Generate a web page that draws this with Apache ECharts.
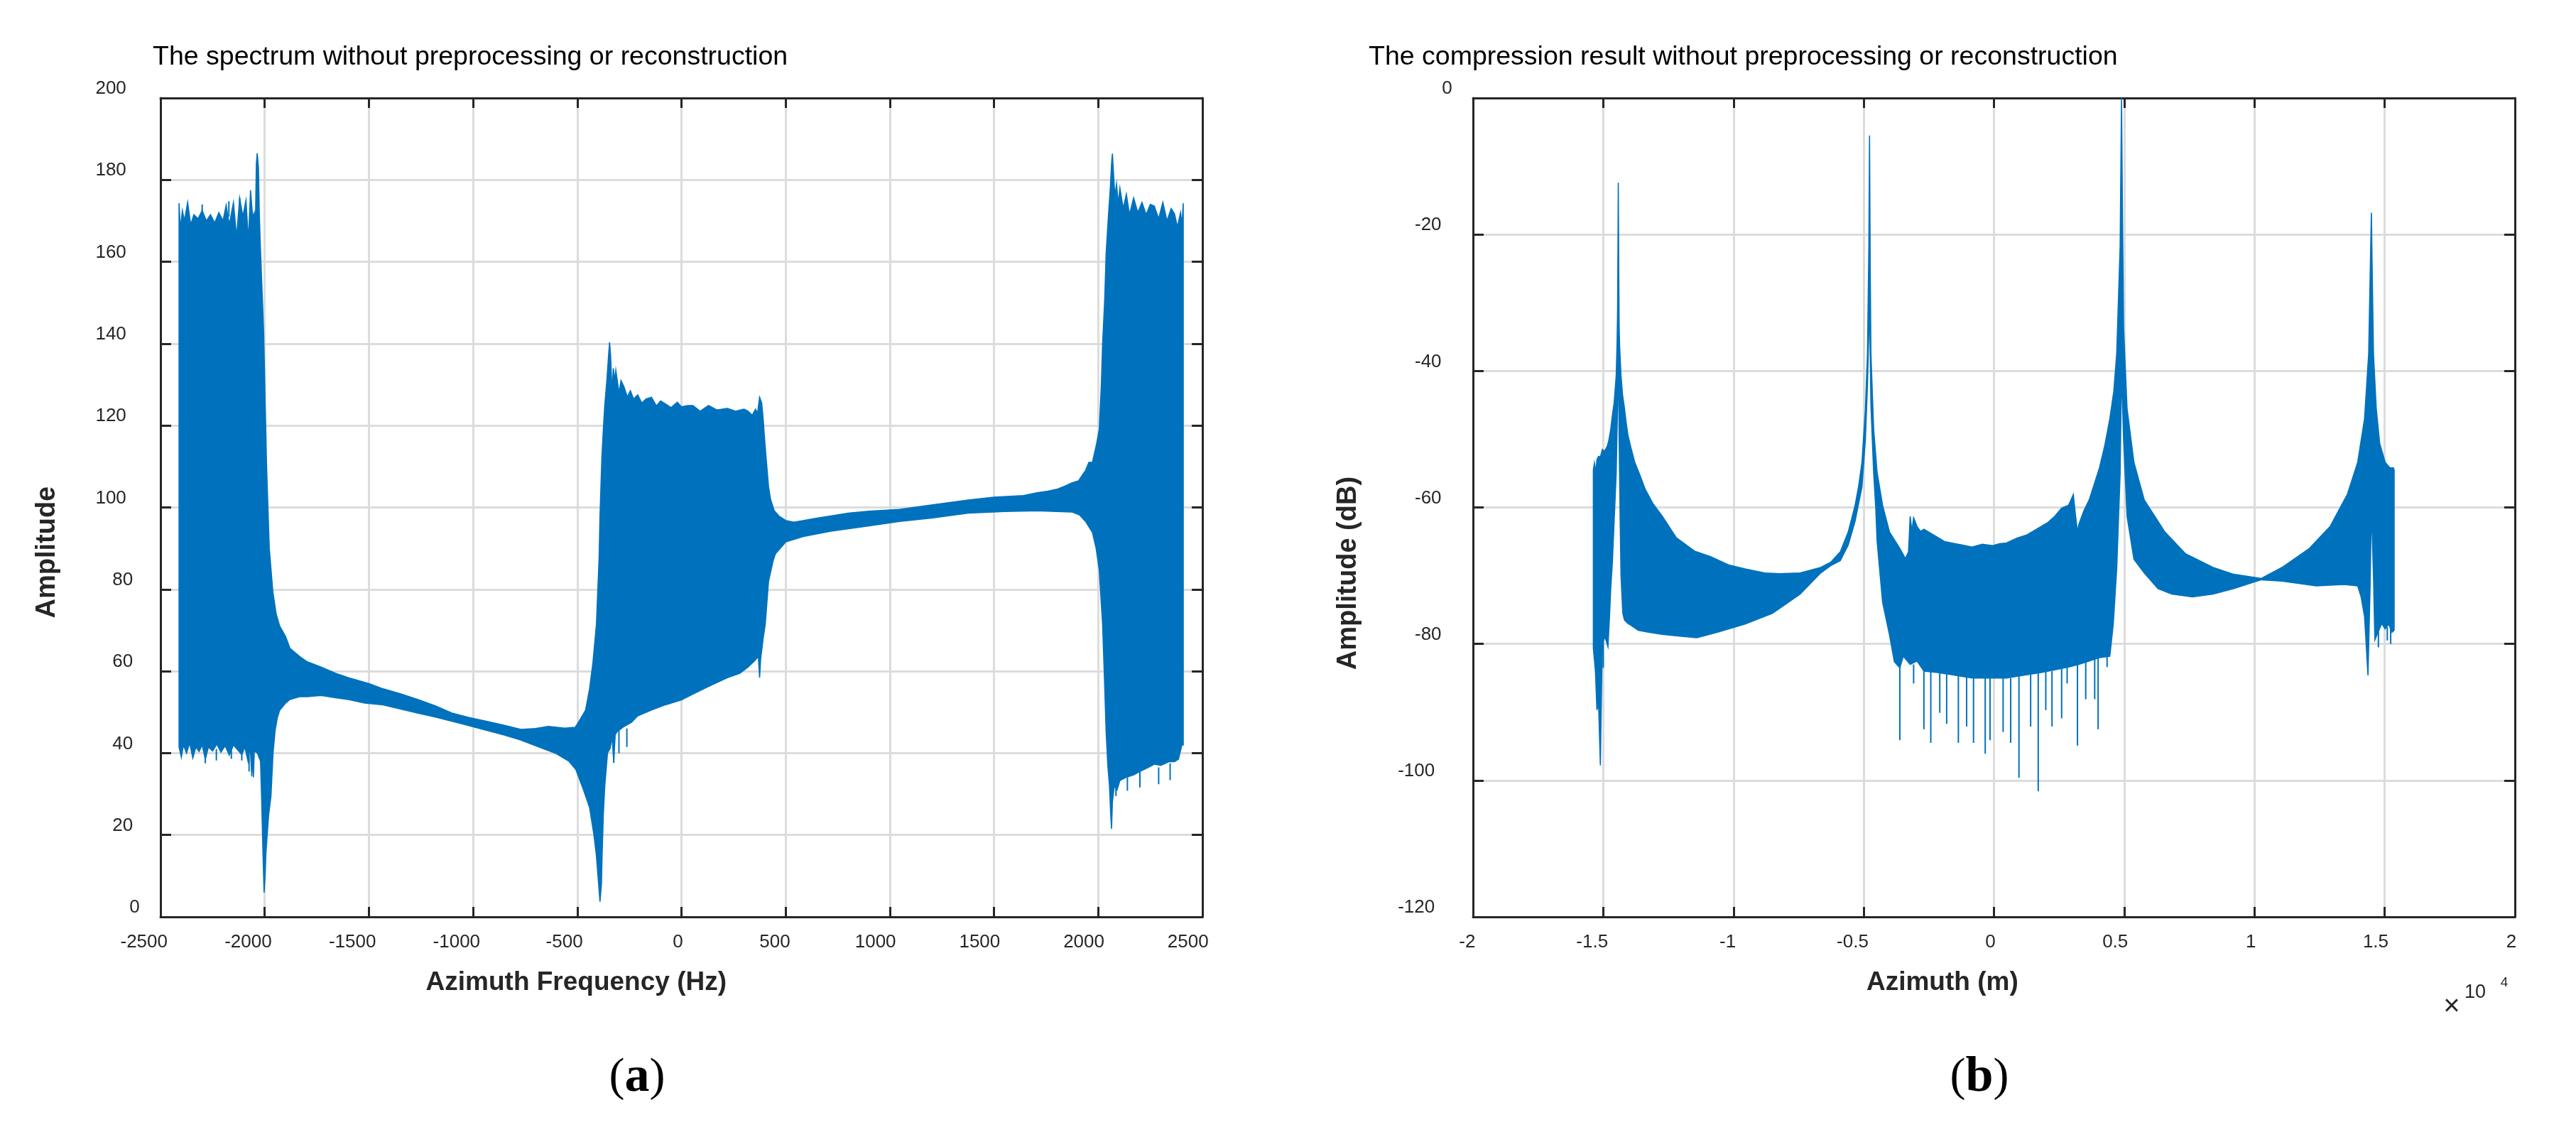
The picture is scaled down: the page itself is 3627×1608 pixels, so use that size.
<!DOCTYPE html>
<html>
<head>
<meta charset="utf-8">
<script src="https://cdn.jsdelivr.net/npm/echarts@6/dist/echarts.min.js"></script>
<style>
  html, body { margin: 0; padding: 0; background: #fff; }
  #chart { width: 3627px; height: 1608px; }
</style>
</head>
<body>
<div id="chart"></div>
<script>
// ---- (a) spectrum: envelope of the dense trace ----
const upFreqA = [-2411, -2405, -2395, -2385, -2370, -2355, -2340, -2320, -2300, -2280, -2260, -2240, -2220, -2200,
  -2185, -2170, -2150, -2135, -2120, -2105, -2090, -2078, -2068, -2058, -2050, -2045, -2040, -2036, -2030, -2026,
  -2021, -2012, -2005, -1997, -1991, -1978, -1961, -1945, -1928, -1900, -1879, -1830, -1796, -1730, -1660, -1598,
  -1500, -1432, -1350, -1267, -1180, -1102, -1020, -937, -850, -771, -700, -639, -560, -510, -491, -460, -441, -425,
  -408, -395, -391, -382, -375, -368, -358, -350, -345, -340, -333, -327, -320, -315, -300, -290, -276, -260, -245,
  -230, -210, -190, -170, -144, -120, -100, -77, -50, -20, 0, 30, 55, 90, 130, 170, 220, 260, 300, 319, 340, 355,
  365, 375, 385, 392, 400, 408, 418, 428, 445, 468, 501, 540, 584, 650, 716, 800, 900, 1046, 1200, 1377, 1500, 1641,
  1707, 1760, 1806, 1840, 1873, 1906, 1925, 1939, 1955, 1972, 1990, 2005, 2015, 2021, 2031, 2038, 2048, 2058, 2064,
  2068, 2074, 2080, 2088, 2096, 2104, 2120, 2135, 2150, 2170, 2190, 2210, 2230, 2250, 2269, 2290, 2310, 2330, 2350,
  2366, 2380, 2395, 2402, 2408];
const upAmpA = [174.3, 168, 172.5, 170, 174.5, 169, 171.5, 170.5, 172.5, 170, 171.5, 169.5, 172, 170,
  173.8, 169, 174.5, 166, 175.5, 171, 175, 165, 177.5, 171, 172, 168, 184, 186.5, 183, 172,
  164, 152, 142.5, 124, 110, 90, 79.4, 74, 71, 68.5, 65.6, 63.5, 62.3, 61, 59.5, 58.4,
  57, 55.7, 54.5, 53.1, 51.5, 49.8, 48.7, 47.8, 46.8, 45.8, 46, 46.5, 46.1, 46.3, 47.8, 50.5, 55.7, 62,
  71.5, 88, 98, 112, 119, 125, 131, 137, 140.3, 137, 128, 134, 131, 133.5, 128, 131, 129.5, 127, 128.5,
  126.5, 127.5, 125.5, 126.5, 126.9, 124.8, 126, 125.3, 124.4, 125.7, 124.6, 124.9, 124.9, 123.5, 124.9, 123.8, 124.2, 123.5, 124, 123.5, 122.5, 124,
  123, 126.9, 125.5, 121.6, 116, 111, 105, 101.9, 99.2, 97.9, 96.8, 96.4, 96.8, 97.4, 97.9, 98.6, 99.1, 99.5, 100.6, 101.8, 102.5, 102.9,
  103.6, 104, 104.5, 105.2, 106, 106.5, 108, 109, 111, 111, 115, 119, 130, 140, 150.6, 162, 170.4, 178, 184,
  186.4, 181, 176, 179, 174, 178, 173, 176.5, 171.5, 175.6, 172, 174.5, 171.5, 174, 173.6, 170.5, 174.5, 170, 173,
  171.7, 168.5, 172, 169, 174.3];
const lowFreqA = [-2411, -2400, -2390, -2375, -2360, -2345, -2330, -2315, -2300, -2285, -2270, -2250, -2230, -2210,
  -2190, -2170, -2150, -2130, -2110, -2095, -2080, -2070, -2062, -2058, -2054, -2050, -2035, -2020, -2015, -2008,
  -2003, -1998, -1994, -1981, -1970, -1960, -1950, -1940, -1928, -1900, -1879, -1830, -1796, -1730, -1660, -1598,
  -1520, -1432, -1350, -1267, -1180, -1102, -1020, -937, -850, -771, -700, -606, -540, -507, -470, -441, -420, -408,
  -396, -391, -384, -381, -375, -368, -355, -342, -333, -325, -318, -309, -276, -240, -210, -144, -77, 0, 55, 130,
  220, 280, 319, 350, 369, 375, 380, 392, 402, 418, 440, 451, 501, 584, 716, 900, 1046, 1200, 1377, 1550, 1707, 1800,
  1873, 1910, 1939, 1972, 1990, 2005, 2013, 2021, 2030, 2038, 2046, 2054, 2060, 2064, 2068, 2077, 2090, 2104, 2130,
  2170, 2200, 2240, 2269, 2300, 2340, 2366, 2385, 2401, 2408];
const lowAmpA = [41.5, 39, 42, 40, 42.5, 38.8, 41.5, 40.4, 42, 38.5, 41.5, 40.5, 42.2, 40.2,
  41.8, 39.5, 42, 40.8, 39.6, 41.5, 38, 42.2, 34.3, 40, 34.1, 40.5, 40, 38, 29.5, 15,
  5.9, 10, 15.8, 25, 29.5, 40, 45.5, 48.5, 50.5, 52.2, 53.1, 53.8, 53.8, 54.1, 53.5, 53.1,
  52.2, 51.8, 50.8, 49.8, 48.8, 47.8, 46.7, 45.6, 44.4, 43.2, 41.8, 40, 38, 36, 31, 26.7, 20, 14.9,
  7, 3.7, 8, 14.9, 25, 32, 40, 41.2, 44, 37.9, 44.5, 45.2, 46.5, 47.5, 49.1, 50.5, 51.8, 53, 54.4, 56.3,
  58.4, 59.5, 61, 62.5, 63.6, 58.4, 63, 68, 71.5, 82, 87, 88.7, 91.6, 92.9, 94.2, 95.5, 96.6, 97.4, 98.6, 99, 99.2, 99,
  98.9, 98.2, 96.6, 93.9, 90, 84.7, 78, 71.5, 58, 45.2, 37, 32, 25, 21.5, 28, 32, 31, 33.3, 34,
  34.7, 35.5, 36.5, 37.3, 37, 37.9, 37.9, 38.5, 41.9, 42];
// thin needles sticking out of the band edges: [freq, from, to]
const spikeFreqA = [-2285, -2232, -2160, -2110, -2075, -2300, -2172, -2120, -325, -300, -262, 2085, 2140, 2200, 2290, 2345];
const spikeFromA = [42, 41, 41, 41, 41, 171, 171, 171, 44, 45.5, 46, 33, 34, 35.5, 36.5, 37.5];
const spikeToA = [37.5, 38.2, 38.6, 38.2, 35.5, 174, 174.8, 175.6, 37.6, 40, 41.5, 29.5, 30.8, 31.6, 32.4, 33.4];

const xTicksA = ['-2500', '-2000', '-1500', '-1000', '-500', '0', '500', '1000', '1500', '2000', '2500'];
const yTicksA = ['0', '20', '40', '60', '80', '100', '120', '140', '160', '180', '200'];

// ---- (b) compression result ----
const upPosB = [-15380, -15340, -15290, -15243, -15180, -15111, -15031, -14950, -14846, -14793, -14714, -14650,
  -14582, -14503, -14470, -14450, -14435, -14423, -14405, -14390, -14370, -14318, -14260, -14185, -14120, -14053,
  -13921, -13789, -13600, -13393, -13100, -12732, -12203, -11500, -10882, -10200, -9560, -8800, -8239, -7446, -6653,
  -6257, -5900, -5596, -5332, -5200, -5068, -4935, -4856, -4803, -4777, -4750, -4724, -4618, -4486, -4275, -4010,
  -3614, -3400, -3280, -3217, -3150, -3085, -2953, -2820, -2689, -2425, -2160, -1900, -1631, -1240, -839, -450, -46,
  220, 483, 880, 1276, 1540, 1805, 2070, 2333, 2598, 2862, 3047, 3126, 3206, 3258, 3450, 3655, 4051, 4250, 4448,
  4600, 4712, 4844, 4897, 4940, 4976, 5109, 5373, 5770, 6563, 7356, 8413, 9206, 10263, 11056, 12112, 12905, 13566,
  13963, 14227, 14385, 14464, 14491, 14520, 14570, 14676, 14808, 15019, 15204, 15336, 15363];
const upDbB = [-54.5, -53.5, -54.8, -53, -52.5, -52.6, -51.5, -51.8, -51, -50.3, -48.6, -46.5,
  -44.7, -40.7, -36, -31.2, -22, -12.4, -25, -33.6, -36.5, -40.7, -43.5, -45.5, -47.6, -49.4,
  -51.5, -53.4, -55.2, -57.3, -59.4, -61.3, -64.4, -66.4, -67.2, -68.4, -69, -69.6, -69.7, -69.6, -68.8,
  -68, -66.5, -63.6, -59.7, -57, -53.4, -45.5, -37.5, -21.7, -5.5, -25, -37.5, -48.6, -54.9, -59.7, -63.6,
  -66, -67.5, -66.5, -61.3, -63.5, -61.5, -62.8, -63.5, -63.2, -63.8, -64.4, -65, -65.2, -65.5, -65.8, -65.4, -65.6,
  -65.3, -65.2, -64.5, -64, -63.4, -62.8, -62.2, -61.3, -60.1, -59.7, -58.1, -61, -63.6, -62.5, -60.5, -58.9, -54.2, -51, -47,
  -43, -37.5, -21.7, 0, -20, -33.6, -45.5, -53.4, -58.9, -63.6, -66.8, -68.8, -69.8, -70.4, -68.8, -66, -62.8, -58.1,
  -53.4, -47, -37.5, -21.7, -16.8, -25, -37.5, -45.5, -50.6, -53.4, -54.2, -54.2, -54.5];
const lowPosB = [-15380, -15300, -15243, -15200, -15111, -15060, -15031, -14950, -14899, -14820, -14760, -14714,
  -14650, -14582, -14503, -14450, -14423, -14390, -14350, -14318, -14250, -14185, -14053, -13921, -13657, -13260,
  -12732, -12203, -11410, -10617, -9560, -8503, -7446, -6653, -6257, -5900, -5596, -5332, -5068, -4935, -4856, -4777,
  -4724, -4618, -4539, -4486, -4275, -4010, -3825, -3614, -3482, -3217, -2953, -2689, -2160, -1631, -839, -46, 483,
  1276, 1805, 2333, 2862, 3258, 3655, 4051, 4448, 4580, 4712, 4844, 4897, 4976, 5109, 5373, 5770, 6298, 6827, 7620,
  8413, 9206, 10263, 11056, 12377, 13434, 13963, 14095, 14227, 14359, 14438, 14491, 14570, 14623, 14887, 15019, 15151,
  15283, 15363];
const lowDbB = [-80.6, -84, -89.7, -86, -97.8, -85, -80, -79, -79.4, -80.4, -76, -72,
  -68, -62, -55, -45, -35, -50, -62, -70, -75.5, -76.5, -77, -77.3, -78, -78.3,
  -78.6, -78.8, -79.1, -78.3, -77.1, -75.5, -72.7, -69.6, -68.5, -67.8, -65.5, -62, -57, -50, -42, -30,
  -45, -55, -60, -65, -73.9, -78.7, -82.6, -83.5, -81.8, -83, -82.5, -84, -84.2, -84.5, -85, -85, -85,
  -84.5, -84.2, -83.8, -83.4, -83, -82.5, -82, -81.8, -77.1, -69, -55, -40, -50, -61.3, -67.6, -69.6, -71.9, -72.7, -73.1,
  -72.7, -71.9, -70.6, -70.8, -71.5, -71.3, -71.5, -73.1, -76, -84.6, -72, -60, -70, -79.4, -77, -77.8, -77.1,
  -78.3, -78];
const spikePosB = [-3614, -3085, -2689, -2425, -2081, -1816, -1367, -1050, -785, -336, -151, 351, 642, 959, 1408,
  1699, 1990, 2228, 2598, 2809, 3206, 3523, 3867, 3999, 4342, -15200, -15000, 14760, 15100, 15230];
const spikeFromB = [-83, -83, -84, -84, -84, -84, -84.5, -84.5, -85, -85, -85, -85, -85, -84.5, -84.5,
  -84.2, -84, -84, -83.5, -83.4, -83, -82.5, -82, -82, -81.8, -82, -79, -76, -77.5, -77.5];
const spikeToB = [-94.1, -85.8, -92.5, -94.5, -90.1, -91.7, -94.5, -92.1, -94.5, -96.1, -94.1, -92.9, -94.5, -99.6, -92.1,
  -101.6, -89.7, -92.1, -90.9, -85.8, -94.9, -88.1, -88.1, -92.5, -83.4, -89.5, -83.5, -80.5, -79.5, -80];

const xTicksB = ['-2', '-1.5', '-1', '-0.5', '0', '0.5', '1', '1.5', '2'];
const yTicksB = ['-120', '-100', '-80', '-60', '-40', '-20', '0'];

const BLUE = '#0072BD';
const INK = '#262626';
const FONT = '"Liberation Sans", Arial, Helvetica, sans-serif';

const measure = (() => {
  const c = document.createElement('canvas').getContext('2d');
  return (s, size, weight) => {
    c.font = (weight || 'normal') + ' ' + size + 'px ' + FONT;
    return c.measureText(s).width;
  };
})();

// the exported figure has its labels nudged left of their anchors by a share of their width
function tickRich(labels, share) {
  const rich = {};
  labels.forEach((s, i) => {
    const w = measure(s, 26);
    rich['t' + i] = { fontSize: 26, fontFamily: FONT, color: INK, padding: [0, share * w, 0, 0] };
  });
  return rich;
}

function axesFor(g, o) {
  const line = { show: true, onZero: false, lineStyle: { color: INK, width: 3 } };
  const tick = { inside: true, length: 14, lineStyle: { color: INK, width: 3 } };
  const ytick = { inside: true, length: 15, lineStyle: { color: INK, width: 3 } };
  const grid = { show: true, lineStyle: { color: '#dcdcdc', width: 3 } };
  const xw = measure(o.xName, 37, 'bold');
  const yw = measure(o.yName, 38, 'bold');
  const xAxes = [{
    type: 'value', gridIndex: g, position: 'bottom', min: o.xMin, max: o.xMax, interval: o.xInt,
    axisLine: line, axisTick: tick, splitLine: grid,
    axisLabel: {
      margin: 23, showMinLabel: true, showMaxLabel: true, rich: tickRich(o.xLabels, 0.7),
      formatter: v => {
        const i = Math.round((v - o.xMin) / o.xInt);
        return '{t' + i + '|' + o.xLabels[i] + '}';
      }
    },
    name: o.xName, nameLocation: 'middle', nameGap: 74,
    nameTextStyle: { fontSize: 37, fontWeight: 'bold', color: INK, fontFamily: FONT, padding: [0, o.xShift * xw, 0, 0] }
  }, {
    type: 'value', gridIndex: g, position: 'top', min: o.xMin, max: o.xMax, interval: o.xInt,
    axisLine: line, axisTick: tick, axisLabel: { show: false }, splitLine: { show: false }
  }];
  const yAxes = [{
    type: 'value', gridIndex: g, position: 'left', min: o.yMin, max: o.yMax, interval: o.yInt,
    axisLine: line, axisTick: ytick, splitLine: grid,
    axisLabel: {
      margin: 20, align: 'right', verticalAlign: 'bottom', showMinLabel: true, showMaxLabel: true,
      rich: tickRich(o.yLabels, 0.65),
      formatter: v => {
        const i = Math.round((v - o.yMin) / o.yInt);
        return '{t' + i + '|' + o.yLabels[i] + '}';
      }
    },
    name: o.yName, nameLocation: 'middle', nameGap: o.yGap,
    nameTextStyle: { fontSize: 38, fontWeight: 'bold', color: INK, fontFamily: FONT, padding: [0, 0.68 * yw, 0, 0] }
  }, {
    type: 'value', gridIndex: g, position: 'right', min: o.yMin, max: o.yMax, interval: o.yInt,
    axisLine: line, axisTick: ytick, axisLabel: { show: false }, splitLine: { show: false }
  }];
  return { xAxes, yAxes };
}

function band(ax, upX, upY, loX, loY) {
  return {
    type: 'custom', xAxisIndex: ax, yAxisIndex: ax, silent: true, z: 3,
    data: [[upX[0], upY[0]]],
    renderItem: (params, api) => {
      const pts = upX.map((x, i) => api.coord([x, upY[i]]));
      for (let i = loX.length - 1; i >= 0; i--) pts.push(api.coord([loX[i], loY[i]]));
      return { type: 'polygon', shape: { points: pts }, style: { fill: BLUE, stroke: BLUE, lineWidth: 1.6, lineJoin: 'miter' } };
    }
  };
}

function needles(ax, xs, from, to) {
  return {
    type: 'custom', xAxisIndex: ax, yAxisIndex: ax, silent: true, z: 4,
    data: xs.map((x, i) => [x, from[i], to[i]]),
    encode: { x: 0, y: [1, 2] },
    renderItem: (params, api) => {
      const a = api.coord([api.value(0), api.value(1)]);
      const b = api.coord([api.value(0), api.value(2)]);
      return { type: 'line', shape: { x1: a[0], y1: a[1], x2: b[0], y2: b[1] }, style: { stroke: BLUE, lineWidth: 2 } };
    }
  };
}

const A = axesFor(0, {
  xMin: -2500, xMax: 2500, xInt: 500, xLabels: xTicksA, xName: 'Azimuth Frequency (Hz)', xShift: 0.7,
  yMin: 0, yMax: 200, yInt: 20, yLabels: yTicksA, yName: 'Amplitude', yGap: 140
});
const B = axesFor(1, {
  xMin: -20000, xMax: 20000, xInt: 5000, xLabels: xTicksB, xName: 'Azimuth (m)', xShift: 0.68,
  yMin: -120, yMax: 0, yInt: 20, yLabels: yTicksB, yName: 'Amplitude (dB)', yGap: 156
});

const chart = echarts.init(document.getElementById('chart'), null, { renderer: 'canvas' });
chart.setOption({
  animation: false,
  backgroundColor: '#fff',
  title: [
    { text: 'The spectrum without preprocessing or reconstruction', left: 210, top: 57,
      textStyle: { fontSize: 37.5, fontWeight: 'normal', color: '#000', fontFamily: FONT } },
    { text: 'The compression result without preprocessing or reconstruction', left: 1922, top: 57,
      textStyle: { fontSize: 37.5, fontWeight: 'normal', color: '#000', fontFamily: FONT } }
  ],
  grid: [
    { left: 226, top: 138, width: 1467, height: 1153, show: true, borderWidth: 0, backgroundColor: '#fff' },
    { left: 2074, top: 138, width: 1467, height: 1153, show: true, borderWidth: 0, backgroundColor: '#fff' }
  ],
  xAxis: [A.xAxes[0], B.xAxes[0], A.xAxes[1], B.xAxes[1]],
  yAxis: [A.yAxes[0], B.yAxes[0], A.yAxes[1], B.yAxes[1]],
  series: [
    band(0, upFreqA, upAmpA, lowFreqA, lowAmpA),
    needles(0, spikeFreqA, spikeFromA, spikeToA),
    band(1, upPosB, upDbB, lowPosB, lowDbB),
    needles(1, spikePosB, spikeFromB, spikeToB)
  ],
  graphic: [
    { type: 'text', x: 897, y: 1518, style: {
        text: '{p|(}{b|a}{p|)}', align: 'center', verticalAlign: 'middle',
        rich: { p: { fontSize: 66, fontFamily: '"Liberation Serif", "Times New Roman", serif', fill: '#000' },
                b: { fontSize: 70, fontWeight: 'bold', fontFamily: '"Liberation Serif", "Times New Roman", serif', fill: '#000' } } } },
    { type: 'text', x: 2787, y: 1518, style: {
        text: '{p|(}{b|b}{p|)}', align: 'center', verticalAlign: 'middle',
        rich: { p: { fontSize: 66, fontFamily: '"Liberation Serif", "Times New Roman", serif', fill: '#000' },
                b: { fontSize: 70, fontWeight: 'bold', fontFamily: '"Liberation Serif", "Times New Roman", serif', fill: '#000' } } } },
    { type: 'text', x: 3452, y: 1418, style: { text: '\u00d7', align: 'center', verticalAlign: 'middle', fontSize: 40, fontFamily: FONT, fill: INK } },
    { type: 'text', x: 3485, y: 1398, style: { text: '10', align: 'center', verticalAlign: 'middle', fontSize: 27, fontFamily: FONT, fill: INK } },
    { type: 'text', x: 3526, y: 1384, style: { text: '4', align: 'center', verticalAlign: 'middle', fontSize: 19, fontFamily: FONT, fill: INK } }
  ]
});
</script>
</body>
</html>
